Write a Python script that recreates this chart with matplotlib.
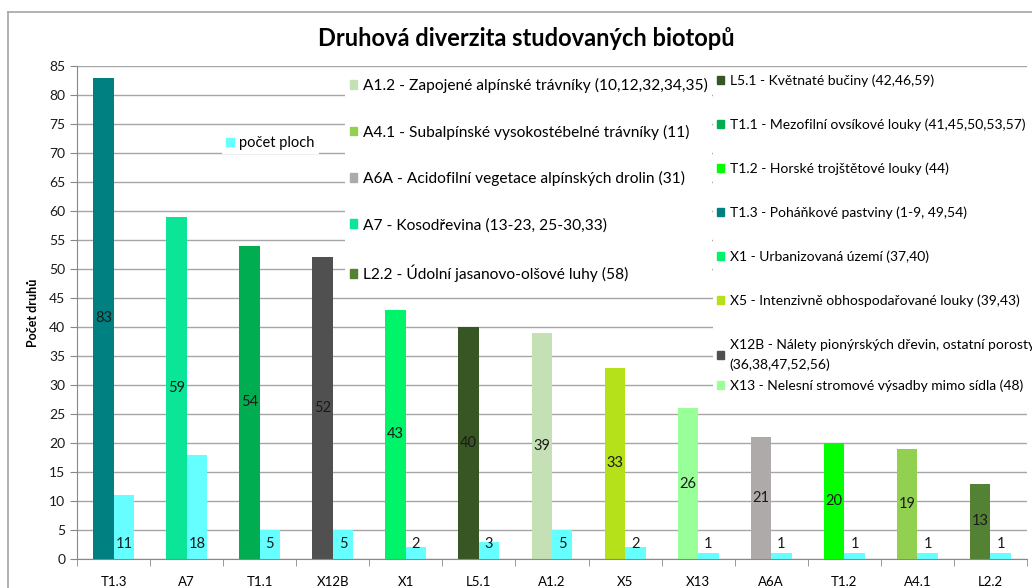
import matplotlib.pyplot as plt
from matplotlib.patches import Patch
from matplotlib.lines import Line2D
import numpy as np

# data
categories = ['T1.3', 'A7', 'T1.1', 'X12B', 'X1', 'L5.1', 'A1.2', 'X5', 'X13', 'A6A', 'T1.2', 'A4.1', 'L2.2']
species_count = [83, 59, 54, 52, 43, 40, 39, 33, 26, 21, 20, 19, 13]
plot_count = [11, 18, 5, 5, 2, 3, 5, 2, 1, 1, 1, 1, 1]

bar_colors = {
    'T1.3': '#008080', 'A7': '#0BE597', 'T1.1': '#00AD50', 'X12B': '#505050',
    'X1': '#00F46A', 'L5.1': '#375623', 'A1.2': '#C5E0B4', 'X5': '#B4E11A',
    'X13': '#99FF99', 'A6A': '#AEAAAA', 'T1.2': '#00FF00', 'A4.1': '#92D050',
    'L2.2': '#548235',
}
plot_color = '#66FFFF'

legend_left = [
    ('A1.2', 'A1.2 - Zapojené alpínské trávníky (10,12,32,34,35)'),
    ('A4.1', 'A4.1 - Subalpínské vysokostébelné trávníky (11)'),
    ('A6A', 'A6A - Acidofilní vegetace alpínských drolin (31)'),
    ('A7', 'A7 - Kosodřevina (13-23, 25-30,33)'),
    ('L2.2', 'L2.2 - Údolní jasanovo-olšové luhy (58)'),
]
legend_right = [
    ('L5.1', 'L5.1 - Květnaté bučiny (42,46,59)'),
    ('T1.1', 'T1.1 - Mezofilní ovsíkové louky (41,45,50,53,57)'),
    ('T1.2', 'T1.2 - Horské trojštětové louky (44)'),
    ('T1.3', 'T1.3 - Poháňkové pastviny (1-9, 49,54)'),
    ('X1', 'X1 - Urbanizovaná území (37,40)'),
    ('X5', 'X5 - Intenzivně obhospodařované louky (39,43)'),
    ('X12B', 'X12B - Nálety pionýrských dřevin, ostatní porosty\n(36,38,47,52,56)'),
]
legend_last = [('X13', 'X13 - Nelesní stromové výsadby mimo sídla (48)')]

plt.rcParams['font.family'] = ['Lato', 'DejaVu Sans']

W, H = 1032, 588
fig = plt.figure(figsize=(W / 100, H / 100), dpi=100)
ax = fig.add_axes([77 / W, 1 - 559 / H, (1027 - 77) / W, (559 - 66) / H])

x = np.arange(len(categories))
bw = 0.28
sp_bars = ax.bar(x - bw / 2, species_count, bw, color=[bar_colors[c] for c in categories], zorder=2)
pl_bars = ax.bar(x + bw / 2, plot_count, bw, color=plot_color, zorder=2)

for bar, v in zip(sp_bars, species_count):
    ax.text(bar.get_x() + bar.get_width() / 2, v / 2, str(v), ha='center', va='center',
            fontsize=10.5, color='#1a1a1a', zorder=3)
for bar, v in zip(pl_bars, plot_count):
    ax.annotate(str(v), (bar.get_x() + bar.get_width() / 2, 0), xytext=(0, 11),
                textcoords='offset points', ha='center', va='center',
                fontsize=10.5, color='#1a1a1a', zorder=3)

ax.set_xlim(-0.5, len(categories) - 0.5)
ax.set_ylim(0, 85)
ax.set_yticks(range(0, 86, 5))
ax.set_xticks(x)
ax.set_xticklabels(categories)
ax.set_xticks(np.arange(-0.5, len(categories), 1), minor=True)
ax.tick_params(axis='x', which='major', length=0, labelsize=9.5, pad=12)
ax.tick_params(axis='x', which='minor', length=5, color='#888888')
ax.tick_params(axis='y', length=5, color='#888888', labelsize=10, labelcolor='#1a1a1a')
ax.yaxis.grid(True, color='#a6a6a6', linewidth=1, zorder=0)
ax.set_axisbelow(True)
for s in ['top', 'right']:
    ax.spines[s].set_visible(False)
for s in ['left', 'bottom']:
    ax.spines[s].set_color('#888888')

ax.set_ylabel('Počet druhů', fontsize=9, fontweight='bold', labelpad=7)
fig.text(526 / W, 1 - 38 / H, 'Druhová diverzita studovaných biotopů', ha='center', va='center',
         fontsize=17, fontweight='bold')

# chart area border
fig.add_artist(Line2D([8 / W, 8 / W], [0, 1 - 12 / H], color='#a6a6a6', lw=1.2))
fig.add_artist(Line2D([8 / W, 1], [1 - 12 / H, 1 - 12 / H], color='#a6a6a6', lw=1.2))

legend_kw = dict(frameon=True, facecolor='white', edgecolor='none', framealpha=1,
                 handleheight=0.5, borderpad=0.3, borderaxespad=0, fancybox=False)

leg0 = ax.legend([Patch(color=plot_color)], ['počet ploch'], loc='center left',
                 bbox_to_anchor=(222 / W, 1 - 143 / H), bbox_transform=fig.transFigure,
                 fontsize=10.5, handlelength=0.55, handletextpad=0.3, **legend_kw)
ax.add_artist(leg0)

leg1 = ax.legend([Patch(color=bar_colors[k]) for k, _ in legend_left], [t for _, t in legend_left],
                 loc='upper left', bbox_to_anchor=(345 / W, 1 - 73 / H), bbox_transform=fig.transFigure,
                 fontsize=11.2, labelspacing=2.04, handlelength=0.5, handletextpad=0.35, **legend_kw)
ax.add_artist(leg1)

leg2 = ax.legend([Patch(color=bar_colors[k]) for k, _ in legend_right], [t for _, t in legend_right],
                 loc='upper left', bbox_to_anchor=(713 / W, 1 - 70 / H), bbox_transform=fig.transFigure,
                 fontsize=10, labelspacing=2.27, handlelength=0.5, handletextpad=0.4, **legend_kw)
for t in leg2.get_texts():
    t.set_linespacing(1.7)
ax.add_artist(leg2)

leg3 = ax.legend([Patch(color=bar_colors[k]) for k, _ in legend_last], [t for _, t in legend_last],
                 loc='center left', bbox_to_anchor=(713 / W, 1 - 386 / H), bbox_transform=fig.transFigure,
                 fontsize=10, handlelength=0.5, handletextpad=0.4, **legend_kw)

fig.savefig('out.png', dpi=100)
